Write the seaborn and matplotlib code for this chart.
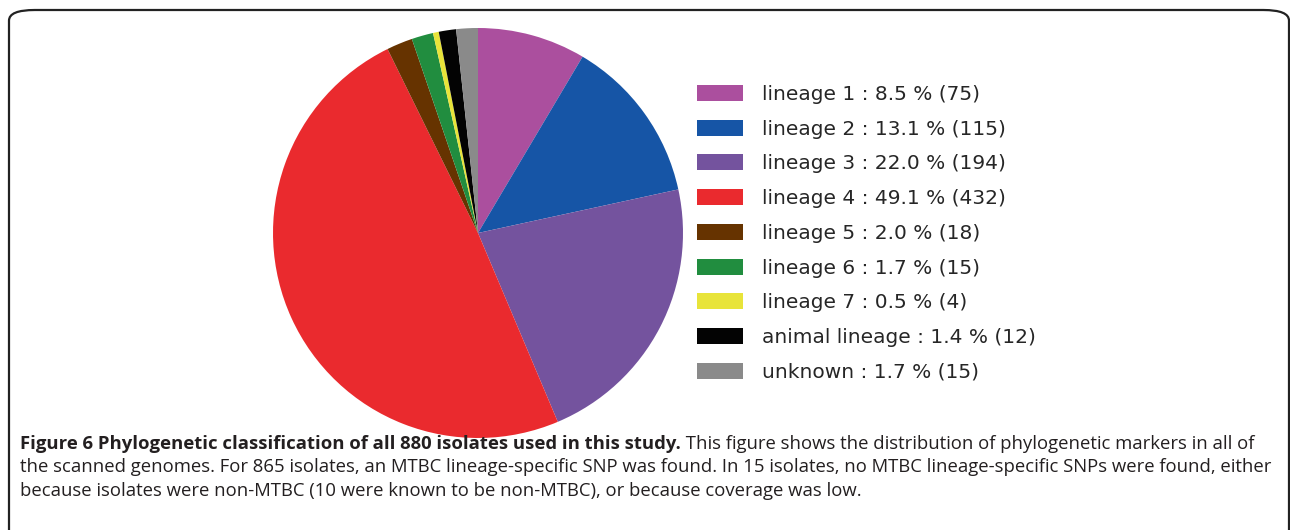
import matplotlib
matplotlib.use("Agg")
import matplotlib.pyplot as plt
import seaborn as sns
from matplotlib.patches import FancyBboxPatch

# data
labels = ["lineage 1", "lineage 2", "lineage 3", "lineage 4", "lineage 5",
          "lineage 6", "lineage 7", "animal lineage", "unknown"]
counts = [75, 115, 194, 432, 18, 15, 4, 12, 15]
percents = [8.5, 13.1, 22.0, 49.1, 2.0, 1.7, 0.5, 1.4, 1.7]
colors = ["#ab4f9e", "#1655a6", "#74539e", "#ea2a2e", "#663300",
          "#218d3f", "#e8e43a", "#030303", "#8a8a8a"]

caption_bold = "Figure 6 Phylogenetic classification of all 880 isolates used in this study."
caption_lines = [
    " This figure shows the distribution of phylogenetic markers in all of",
    "the scanned genomes. For 865 isolates, an MTBC lineage-specific SNP was found. In 15 isolates, no MTBC lineage-specific SNPs were found, either",
    "because isolates were non-MTBC (10 were known to be non-MTBC), or because coverage was low.",
]

sns.set_theme(style="white")
plt.rcParams["font.family"] = ["DejaVu Sans"]

W, H = 1290, 530
fig = plt.figure(figsize=(W / 100, H / 100), dpi=100)

# rounded frame, open at the bottom
frame = FancyBboxPatch((9 / W, -0.2), (1289 - 9) / W, (530 - 10) / H + 0.2,
                       boxstyle="round,pad=0,rounding_size=0.02",
                       transform=fig.transFigure, fill=False,
                       edgecolor="#222222", linewidth=1.6, clip_on=False)
fig.patches.append(frame)

# pie
cx, cy, r = 478, 233, 205
ax = fig.add_axes([(cx - r) / W, (H - cy - r) / H, 2 * r / W, 2 * r / H])
wedges, _ = ax.pie(counts, colors=colors, startangle=90, counterclock=False,
                   wedgeprops=dict(linewidth=0))
ax.set_xlim(-1, 1)
ax.set_ylim(-1, 1)
ax.set_aspect("auto")
ax.axis("off")

legend_labels = [f"{l} : {p:.1f} % ({c})" for l, p, c in zip(labels, percents, counts)]
fs = 14.5
fpx = fs * 100 / 72
fig.legend(wedges, legend_labels, loc="upper left",
           bbox_to_anchor=(697 / W, 1 - 85 / H), frameon=False,
           borderpad=0, borderaxespad=0,
           handlelength=46 / fpx, handleheight=17 / fpx,
           handletextpad=0.92, labelspacing=0.78,
           prop=dict(family="DejaVu Sans", size=fs))

# caption
cap_font = ["Open Sans", "DejaVu Sans"]
cap_fs = 13.3
fig.canvas.draw()
renderer = fig.canvas.get_renderer()
y0 = 1 - 444 / H
t = fig.text(20 / W, y0, caption_bold, fontsize=cap_fs, fontweight="bold",
             family=cap_font, va="center", color="#231f20")
bb = t.get_window_extent(renderer)
fig.text(bb.x1 / W, y0, caption_lines[0], fontsize=cap_fs, family=cap_font,
         va="center", color="#231f20")
fig.text(20 / W, 1 - 467 / H, caption_lines[1], fontsize=cap_fs, family=cap_font,
         va="center", color="#231f20")
fig.text(20 / W, 1 - 491 / H, caption_lines[2], fontsize=cap_fs, family=cap_font,
         va="center", color="#231f20")

fig.savefig("out.png", dpi=100)
